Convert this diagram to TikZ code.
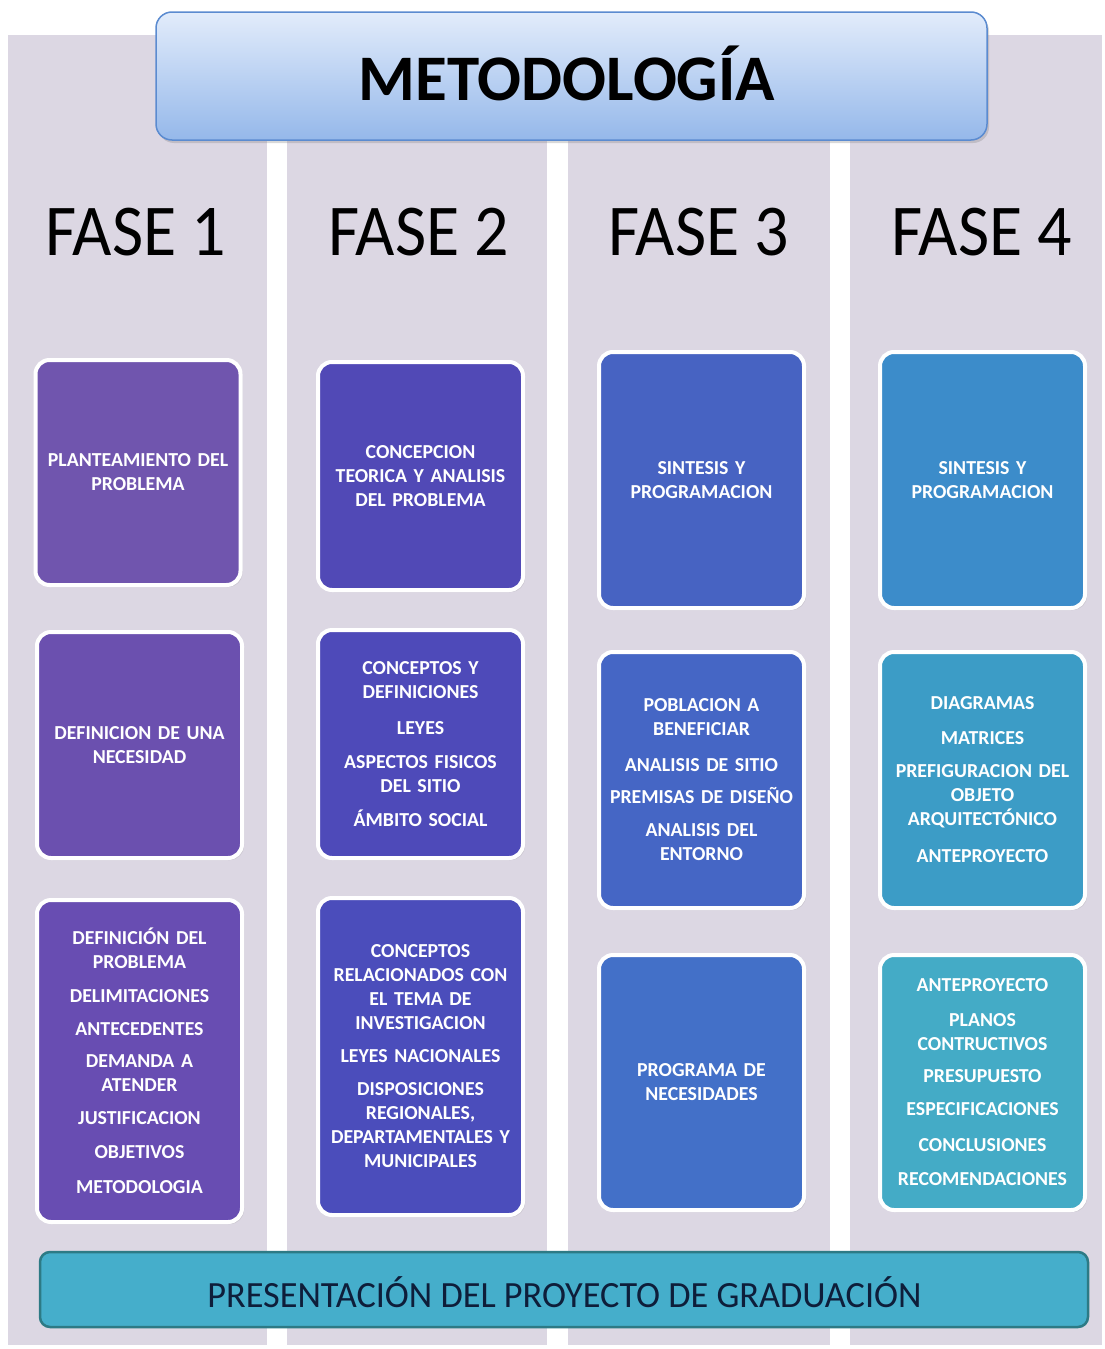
\documentclass[tikz,border=0pt]{standalone}
\usepackage{fontspec}
\setmainfont{Carlito}
\usetikzlibrary{shadows}
\definecolor{colbg}{HTML}{DCD7E3}
\definecolor{titletop}{HTML}{E2ECFB}
\definecolor{titlebot}{HTML}{95B8EA}
\definecolor{titleedge}{HTML}{5B8BD0}
\definecolor{c1a}{HTML}{7055AE}
\definecolor{c1b}{HTML}{6B50AF}
\definecolor{c1c}{HTML}{684DB2}
\definecolor{c2a}{HTML}{5149B6}
\definecolor{c2b}{HTML}{4E4AB9}
\definecolor{c2c}{HTML}{4B4DBB}
\definecolor{c3a}{HTML}{4763C2}
\definecolor{c3b}{HTML}{4566C5}
\definecolor{c3c}{HTML}{4370C8}
\definecolor{c4a}{HTML}{3C8CCA}
\definecolor{c4b}{HTML}{3C9CC6}
\definecolor{c4c}{HTML}{44ABC6}
\definecolor{barfill}{HTML}{45AECB}
\definecolor{baredge}{HTML}{2D7A85}
\definecolor{bartext}{HTML}{0E1E3A}
\tikzset{
  stagebox/.style={rounded corners=14pt, draw=white, line width=4pt, text=white,
    font=\bfseries\fontsize{19.8}{24}\selectfont, align=center, text width=202pt,
    inner sep=0pt, minimum width=205pt, drop shadow={opacity=0.18, shadow xshift=2pt, shadow yshift=-2pt}},
  fasetext/.style={font=\fontsize{73}{80}\selectfont, xscale=0.93, transform shape, anchor=base, inner sep=0pt},
}
\begin{document}
\begin{tikzpicture}[x=1pt,y=-1pt]
\useasboundingbox (0,0) rectangle (1104,1349);
\fill[white] (0,0) rectangle (1104,1349);
% column backgrounds
\fill[colbg] (8,35) rectangle (267,1345);
\fill[colbg] (287,35) rectangle (547,1345);
\fill[colbg] (568,35) rectangle (830,1345);
\fill[colbg] (850,35) rectangle (1102,1345);
% title
\node[rounded corners=16pt, draw=titleedge, line width=1.5pt, top color=titletop, bottom color=titlebot,
  minimum width=831pt, minimum height=128pt, inner sep=0pt,
  drop shadow={opacity=0.3, shadow xshift=2pt, shadow yshift=-3pt}] (title) at (571.5,76) {};
\node[font=\bfseries\fontsize{65}{70}\selectfont, anchor=base, inner sep=0pt] (titletext) at (567,100) {METODOLOGÍA};
% phase labels
\node[fasetext] (f1) at (136,255) {FASE 1};
\node[fasetext] (f2) at (419,255) {FASE 2};
\node[fasetext] (f3) at (699,255) {FASE 3};
\node[fasetext] (f4) at (982,255) {FASE 4};
% column 1
\node[stagebox, fill=c1a, minimum height=225pt] (b11) at (138,472.5) {PLANTEAMIENTO DEL\\PROBLEMA};
\node[stagebox, fill=c1b, minimum height=226pt] (b12) at (139.5,745) {DEFINICION DE UNA\\NECESIDAD};
\node[stagebox, fill=c1c, minimum height=322pt] (b13) at (139.5,1061) {DEFINICIÓN DEL\\PROBLEMA\\[10pt]DELIMITACIONES\\[9pt]ANTECEDENTES\\[8pt]DEMANDA A\\ATENDER\\[9pt]JUSTIFICACION\\[10pt]OBJETIVOS\\[11pt]METODOLOGIA};
% column 2
\node[stagebox, fill=c2a, minimum height=228pt] (b21) at (420.5,476) {CONCEPCION\\TEORICA Y ANALISIS\\DEL PROBLEMA};
\node[stagebox, fill=c2b, minimum height=228pt] (b22) at (420.5,744) {CONCEPTOS Y\\DEFINICIONES\\[12pt]LEYES\\[10pt]ASPECTOS FISICOS\\DEL SITIO\\[10pt]ÁMBITO SOCIAL};
\node[stagebox, fill=c2c, minimum height=317pt] (b23) at (420.5,1056.5) {CONCEPTOS\\RELACIONADOS CON\\EL TEMA DE\\INVESTIGACION\\[9pt]LEYES NACIONALES\\[9pt]DISPOSICIONES\\REGIONALES,\\DEPARTAMENTALES Y\\MUNICIPALES};
% column 3
\node[stagebox, fill=c3a, minimum height=256pt] (b31) at (701.5,480) {SINTESIS Y\\PROGRAMACION};
\node[stagebox, fill=c3b, minimum height=256pt] (b32) at (701.5,780) {POBLACION A\\BENEFICIAR\\[12pt]ANALISIS DE SITIO\\[8pt]PREMISAS DE DISEÑO\\[9pt]ANALISIS DEL\\ENTORNO};
\node[stagebox, fill=c3c, minimum height=255pt] (b33) at (701.5,1082.5) {PROGRAMA DE\\NECESIDADES};
% column 4
\node[stagebox, fill=c4a, minimum height=256pt] (b41) at (982.5,480) {SINTESIS Y\\PROGRAMACION};
\node[stagebox, fill=c4b, minimum height=256pt] (b42) at (982.5,780) {DIAGRAMAS\\[11pt]MATRICES\\[9pt]PREFIGURACION DEL\\OBJETO\\ARQUITECTÓNICO\\[13pt]ANTEPROYECTO};
\node[stagebox, fill=c4c, minimum height=255pt] (b43) at (982.5,1082.5) {ANTEPROYECTO\\[11pt]PLANOS\\CONTRUCTIVOS\\[8pt]PRESUPUESTO\\[9pt]ESPECIFICACIONES\\[12pt]CONCLUSIONES\\[10pt]RECOMENDACIONES};
% bottom bar
\node[rounded corners=10pt, fill=barfill, draw=baredge, line width=2.5pt, minimum width=1048pt, minimum height=75pt, inner sep=0pt] (bar) at (564,1289.5) {};
\node[font=\fontsize{37}{40}\selectfont, text=bartext, xscale=0.98, transform shape, anchor=base, inner sep=0pt] (bartext) at (564.5,1307) {PRESENTACIÓN DEL PROYECTO DE GRADUACIÓN};
\end{tikzpicture}
\end{document}
